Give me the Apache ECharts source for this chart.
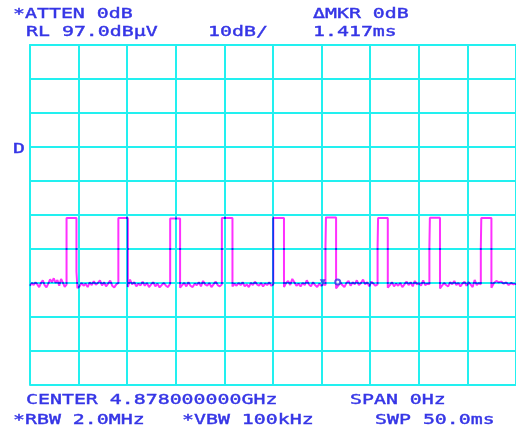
<!DOCTYPE html>
<html><head><meta charset="utf-8">
<script src="https://cdn.jsdelivr.net/npm/echarts@6/dist/echarts.min.js"></script>
<style>html,body{margin:0;padding:0;background:#fff}#c{width:516px;height:433px}</style>
</head><body><div id="c"></div>
<script>
// Analyzer settings (reference level dBuV, sweep time ms, 10 dB/div)
const RL = 97;
const SWEEP_MS = 50;
const DB_PER_DIV = 10;
// Pulse edges (ms) and top levels (dBuV)
const riseT = [3.76, 9.09, 14.42, 19.74, 25.03, 30.40, 35.76, 41.09, 46.38];
const fallT = [4.78, 10.07, 15.44, 20.83, 26.13, 31.49, 36.81, 42.18, 47.47];
const topL  = [46.1, 46.1, 46.0, 46.1, 46.1, 46.3, 46.1, 46.2, 46.1];
const riseStep = [null, null, null, null, null, 37.7, 37.6, 37.8, 37.6];
const fallStep = [30.3, null, null, null, null, null, null, null, null];
// Baseline noise between pulses (dBuV)
const noise0 = [26.2, 27.0, 26.4, 27.2, 26.6, 25.8, 27.0, 27.8, 26.4, 25.7, 26.8, 28.1, 27.2, 28.4, 27.0, 27.9, 26.2, 28.2, 27.1, 25.9, 26.5];
const noise1 = [25.5, 26.0, 27.0, 26.2, 26.8, 25.8, 27.2, 26.4, 27.5, 26.5, 27.0, 27.8, 26.3, 27.2, 26.0, 26.8, 27.7, 26.2, 25.7, 26.6, 27.0];
const noise2 = [25.8, 28.0, 26.6, 27.2, 26.0, 26.8, 26.3, 27.4, 26.2, 27.0, 25.8, 26.6, 27.2, 26.0, 26.8, 25.7, 26.4, 27.0, 26.2, 25.8, 26.8];
const noise3 = [25.6, 26.4, 27.0, 26.0, 27.2, 26.2, 25.8, 26.8, 26.4, 27.2, 26.0, 27.6, 26.6, 26.2, 27.0, 25.8, 26.6, 27.4, 26.4, 26.0, 26.6];
const noise4 = [26.0, 26.8, 26.2, 27.0, 26.4, 27.2, 26.0, 26.6, 25.8, 27.0, 26.4, 27.4, 26.6, 26.2, 27.0, 26.0, 26.8, 26.4, 27.2, 26.2, 26.6];
const noise5 = [25.8, 27.0, 27.6, 26.4, 28.2, 27.2, 26.2, 26.8, 26.0, 27.0, 26.4, 27.8, 26.6, 26.0, 27.2, 26.4, 25.8, 26.8, 26.2, 26.6, 26.4];
const noise6 = [25.4, 26.2, 27.2, 26.4, 25.8, 27.0, 27.6, 26.2, 27.2, 26.6, 27.8, 26.4, 27.0, 28.0, 26.6, 27.2, 26.0, 27.4, 26.8, 26.2, 26.6];
const noise7 = [25.6, 26.4, 27.2, 26.0, 26.8, 26.2, 27.0, 25.8, 26.6, 27.4, 26.4, 27.2, 26.0, 27.6, 26.6, 27.0, 26.2, 27.8, 26.4, 26.8, 26.6];
const noise8 = [25.4, 26.2, 27.0, 26.4, 26.0, 27.2, 26.6, 27.6, 26.4, 27.0, 26.0, 26.8, 27.4, 26.2, 27.2, 26.6, 25.8, 27.9, 26.4, 27.0, 26.6];
const noise9 = [25.6, 27.0, 27.6, 27.2, 27.4, 26.8, 27.2, 26.4, 27.0, 26.6, 26.8];
const noiseGaps = [noise0, noise1, noise2, noise3, noise4, noise5, noise6, noise7, noise8, noise9];
// Markers (ms, dBuV)
const markers = [[30.12, 27.2], [31.66, 27.3]];
// Annotation texts
const txtAtten = "*ATTEN 0dB", txtMkr = "\u0394MKR 0dB", txtRL = "RL 97.0dB\u03bcV",
      txtScale = "10dB/", txtMkrVal = "1.417ms", txtCenter = "CENTER 4.878000000GHz",
      txtSpan = "SPAN 0Hz", txtRbw = "*RBW 2.0MHz", txtVbw = "*VBW 100kHz", txtSwp = "SWP 50.0ms", txtD = "D";

const rel = v => v - RL;
const trace = [];
let gapStart = 0;
for (let i = 0; i < noiseGaps.length; i++) {
  const n = noiseGaps[i];
  const gapEnd = i < riseT.length ? riseT[i] : SWEEP_MS;
  for (let k = 0; k < n.length; k++) {
    trace.push([gapStart + (gapEnd - gapStart) * k / (n.length - 1), rel(n[k])]);
  }
  if (i < riseT.length) {
    const r = riseT[i], f = fallT[i];
    if (riseStep[i] !== null) {
      trace.push([r, rel(riseStep[i])], [r + 0.05, rel(riseStep[i])], [r + 0.05, rel(topL[i])]);
    } else {
      trace.push([r, rel(topL[i])]);
    }
    trace.push([f, rel(topL[i])]);
    if (fallStep[i] !== null) {
      trace.push([f, rel(fallStep[i])], [f + 0.1, rel(fallStep[i])]);
      gapStart = f + 0.1;
    } else {
      gapStart = f;
    }
  }
}

const CY = '#22f0f0', BLUE = '#3535e6', MAG = '#ff30ff';
const FONT = '14px "DejaVu Sans Mono"';
const SX = 1.42;
function T(text, x, y) {
  return {type: 'text', x: x, y: y, scaleX: SX, z: 10,
    style: {text: text, font: FONT, fill: BLUE, stroke: BLUE, lineWidth: 0.4, verticalAlign: 'top', align: 'left'}};
}
const chart = echarts.init(document.getElementById('c'), null, {renderer: 'canvas'});
chart.setOption({
  backgroundColor: '#ffffff',
  animation: false,
  grid: {left: 30, top: 45, width: 488, height: 340},
  xAxis: {type: 'value', min: 0, max: SWEEP_MS, interval: SWEEP_MS / 10,
    axisLine: {show: true, lineStyle: {color: CY, width: 2}},
    axisTick: {show: false}, axisLabel: {show: false},
    splitLine: {show: true, lineStyle: {color: CY, width: 2}}},
  yAxis: {type: 'value', min: -10 * DB_PER_DIV, max: 0, interval: DB_PER_DIV,
    axisLine: {show: true, lineStyle: {color: CY, width: 2}},
    axisTick: {show: false}, axisLabel: {show: false},
    splitLine: {show: true, lineStyle: {color: CY, width: 2}}},
  series: [
    {type: 'line', data: trace, symbol: 'none', blendMode: 'multiply',
      lineStyle: {color: MAG, width: 2}, z: 3},
    {type: 'scatter', data: [[markers[0][0], rel(markers[0][1])]], z: 4,
      symbol: 'triangle', symbolRotate: 180, symbolSize: 6,
      itemStyle: {color: BLUE}},
    {type: 'scatter', data: [[markers[1][0], rel(markers[1][1])]], z: 4,
      symbol: 'circle', symbolSize: 5,
      itemStyle: {color: '#fff', borderColor: BLUE, borderWidth: 2}}
  ],
  graphic: [
    T(txtAtten, 13, 7), T(txtMkr, 313, 7),
    T(txtRL, 26, 25), T(txtScale, 208, 25), T(txtMkrVal, 313, 25),
    T(txtD, 13, 142),
    T(txtCenter, 26, 393), T(txtSpan, 350, 393),
    T(txtRbw, 13, 413), T(txtVbw, 182, 413), T(txtSwp, 375, 413)
  ]
});
</script></body></html>
